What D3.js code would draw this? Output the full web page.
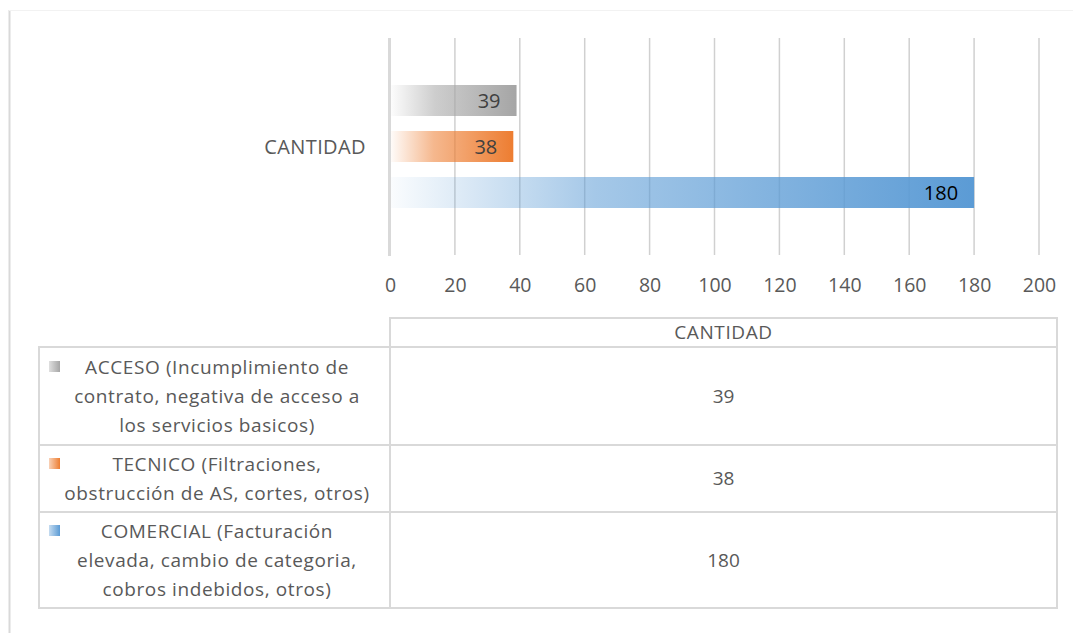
<!DOCTYPE html>
<html>
<head>
<meta charset="utf-8">
<script src="https://cdn.jsdelivr.net/npm/d3@7"></script>
<style>
  body { margin: 0; background: #fff; }
  svg { display: block; font-family: "Open Sans", sans-serif; }
</style>
</head>
<body>
<div id="chart"></div>
<script>
// data
var series_name = "CANTIDAD";
var categories = ["ACCESO", "TECNICO", "COMERCIAL"];
var values = [39, 38, 180];
var colors = ["#a5a5a5", "#ed7d31", "#5b9bd5"];
var label_colors = ["#404040", "#404040", "#000000"];
var legend_lines = [
  ["ACCESO (Incumplimiento de", "contrato, negativa de acceso a", "los servicios basicos)"],
  ["TECNICO (Filtraciones,", "obstrucción de AS, cortes, otros)"],
  ["COMERCIAL (Facturación", "elevada, cambio de categoria,", "cobros indebidos, otros)"]
];
var tick_values = [0, 20, 40, 60, 80, 100, 120, 140, 160, 180, 200];

var W = 1073, H = 633;
var svg = d3.select("#chart").append("svg").attr("width", W).attr("height", H);

// chart frame
svg.append("line").attr("x1", 9.5).attr("x2", 9.5).attr("y1", 10).attr("y2", H)
  .attr("stroke", "#d9d9d9").attr("stroke-width", 2);
svg.append("line").attr("x1", 9).attr("x2", W).attr("y1", 10.5).attr("y2", 10.5)
  .attr("stroke", "#f2f2f2").attr("stroke-width", 1);

var x = d3.scaleLinear().domain([0, 200]).range([390, 1039]);
var y = d3.scaleBand().domain(categories).range([85, 208]).paddingInner(15 / 46).paddingOuter(0);

var defs = svg.append("defs");
categories.forEach(function (c, i) {
  var g = defs.append("linearGradient").attr("id", "grad" + i)
    .attr("x1", "0%").attr("x2", "100%").attr("y1", "0%").attr("y2", "0%");
  g.append("stop").attr("offset", "0%").attr("stop-color", colors[i]).attr("stop-opacity", 0.03);
  g.append("stop").attr("offset", "35%").attr("stop-color", colors[i]).attr("stop-opacity", 0.55);
  g.append("stop").attr("offset", "100%").attr("stop-color", colors[i]).attr("stop-opacity", 1);
  var k = defs.append("linearGradient").attr("id", "kgrad" + i)
    .attr("x1", "0%").attr("x2", "100%").attr("y1", "0%").attr("y2", "0%");
  k.append("stop").attr("offset", "0%").attr("stop-color", colors[i]).attr("stop-opacity", 0.35);
  k.append("stop").attr("offset", "100%").attr("stop-color", colors[i]).attr("stop-opacity", 1);
});

// gridlines
svg.append("g").selectAll("line").data(tick_values.slice(1)).join("line")
  .attr("x1", function (d) { return x(d); }).attr("x2", function (d) { return x(d); })
  .attr("y1", 38).attr("y2", 255)
  .attr("stroke", "#d0d0d0").attr("stroke-width", 1.5);

// category axis line
svg.append("line").attr("x1", x(0) - 0.5).attr("x2", x(0) - 0.5).attr("y1", 38).attr("y2", 256)
  .attr("stroke", "#d9d9d9").attr("stroke-width", 3);

// bars
svg.append("g").selectAll("rect").data(values).join("rect")
  .attr("x", x(0) + 1)
  .attr("y", function (d, i) { return y(categories[i]); })
  .attr("width", function (d) { return x(d) - x(0) - 1; })
  .attr("height", y.bandwidth())
  .attr("fill", function (d, i) { return "url(#grad" + i + ")"; });

// data labels
svg.append("g").selectAll("text").data(values).join("text")
  .attr("x", function (d) { return x(d) - 16; })
  .attr("y", function (d, i) { return y(categories[i]) + y.bandwidth() / 2; })
  .attr("dy", "0.36em")
  .attr("text-anchor", "end")
  .attr("font-size", 20)
  .attr("fill", function (d, i) { return label_colors[i]; })
  .text(function (d) { return d; });

// series label
svg.append("text").attr("x", 366).attr("y", y(categories[1]) + y.bandwidth() / 2)
  .attr("dy", "0.36em").attr("text-anchor", "end").attr("letter-spacing", 0.4)
  .attr("font-size", 20).attr("fill", "#595959").text(series_name);

// value axis ticks
var xAxis = d3.axisBottom(x).tickValues(tick_values).tickSize(0).tickPadding(0);
var ax = svg.append("g").attr("transform", "translate(0,278)").call(xAxis);
ax.select(".domain").remove();
ax.selectAll("text").attr("font-size", 19.5).attr("fill", "#595959")
  .attr("font-family", "Open Sans, sans-serif").attr("dy", "0.36em").attr("y", 7);

// data table
var tcol = [39, 390, 1057];
var trow = [318, 347, 445, 512, 608];
var border = "#d9d9d9";
var tbl = svg.append("g").attr("fill", "none").attr("stroke", border).attr("stroke-width", 2);
tbl.append("rect").attr("x", tcol[1]).attr("y", trow[0]).attr("width", tcol[2] - tcol[1]).attr("height", trow[1] - trow[0]);
categories.forEach(function (c, i) {
  tbl.append("rect").attr("x", tcol[0]).attr("y", trow[i + 1]).attr("width", tcol[1] - tcol[0]).attr("height", trow[i + 2] - trow[i + 1]);
  tbl.append("rect").attr("x", tcol[1]).attr("y", trow[i + 1]).attr("width", tcol[2] - tcol[1]).attr("height", trow[i + 2] - trow[i + 1]);
});

svg.append("text").attr("x", (tcol[1] + tcol[2]) / 2).attr("y", (trow[0] + trow[1]) / 2)
  .attr("dy", "0.36em").attr("text-anchor", "middle").attr("font-size", 19).attr("letter-spacing", 0.6)
  .attr("fill", "#595959").text(series_name);

var lineH = 29;
categories.forEach(function (c, i) {
  var top = trow[i + 1], bot = trow[i + 2];
  var mid = (top + bot) / 2;
  var n = legend_lines[i].length;
  var first = mid - (n - 1) * lineH / 2;
  svg.append("rect").attr("x", 49).attr("y", first - 6).attr("width", 11).attr("height", 11)
    .attr("fill", "url(#kgrad" + i + ")");
  svg.append("g").selectAll("text").data(legend_lines[i]).join("text")
    .attr("x", 217).attr("y", function (d, j) { return first + j * lineH; })
    .attr("dy", "0.36em").attr("text-anchor", "middle").attr("font-size", 19).attr("letter-spacing", 0.6)
    .attr("fill", "#595959")
    .text(function (d) { return d; });
  svg.append("text").attr("x", (tcol[1] + tcol[2]) / 2).attr("y", mid)
    .attr("dy", "0.36em").attr("text-anchor", "middle").attr("font-size", 19).attr("fill", "#595959")
    .text(values[i]);
});
</script>
</body>
</html>
